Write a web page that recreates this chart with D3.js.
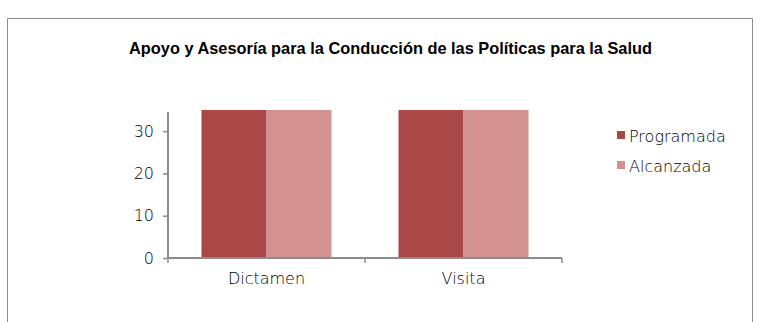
<!DOCTYPE html>
<html><head><meta charset="utf-8">
<script src="https://cdn.jsdelivr.net/npm/d3@7"></script>
<style>
body{margin:0;background:#fff;}
svg{display:block;}
</style></head><body>
<svg id="c" width="757" height="322"></svg>
<script>
const title = "Apoyo y Asesoría para la Conducción de las Políticas para la Salud";
const categories = ["Dictamen", "Visita"];
const seriesNames = ["Programada", "Alcanzada"];
const programada = [35, 35];
const alcanzada = [35, 35];
const yTicks = [0, 10, 20, 30];
const colors = ["#A94846", "#D39290"];

const svg = d3.select("#c");
svg.append("path").attr("d","M7.5,322 V18.5 H752.5 V322").attr("fill","none").attr("stroke","#8c8c8c").attr("stroke-width",1);

svg.append("text").text(title)
  .attr("x",390.5).attr("y",54).attr("text-anchor","middle")
  .attr("font-family","Liberation Sans, Arial, sans-serif").attr("font-weight","bold")
  .attr("font-size",17).attr("textLength",523).attr("lengthAdjust","spacingAndGlyphs").attr("fill","#000");

const x0 = d3.scaleBand().domain(categories).range([168,562]).paddingInner(0.34).paddingOuter(0.17);
const x1 = d3.scaleBand().domain(seriesNames).range([0,x0.bandwidth()]);
const y = d3.scaleLinear().domain([0,35]).range([258,110]);

const data = categories.map((c,i)=>({cat:c, vals:[programada[i], alcanzada[i]]}));
svg.append("g").selectAll("g").data(data).join("g").attr("transform",d=>`translate(${x0(d.cat)},0)`)
  .selectAll("rect").data(d=>d.vals.map((v,j)=>({s:seriesNames[j],v,j})))
  .join("rect")
  .attr("x",d=>x1(d.s)).attr("width",x1.bandwidth())
  .attr("y",d=>y(d.v)).attr("height",d=>y(0)-y(d.v))
  .attr("fill",d=>colors[d.j]);

const font = "'DejaVu Sans', sans-serif";
const ya = svg.append("g").attr("transform","translate(168,0)")
  .call(d3.axisLeft(y).tickValues(yTicks).tickSize(5).tickPadding(9).tickFormat(d3.format("d")));
ya.select(".domain").attr("stroke","#8c8c8c").attr("stroke-width",2).attr("d","M0,112V258");
ya.selectAll(".tick line").attr("stroke","#8c8c8c").attr("stroke-width",1.5);
ya.selectAll("text").attr("font-family",font).attr("font-weight",200).attr("font-size",16).attr("fill","#000");

const xa = svg.append("g").attr("transform","translate(0,258)")
  .call(d3.axisBottom(x0).tickSize(0).tickPadding(15));
xa.select(".domain").attr("stroke","#8c8c8c").attr("stroke-width",2).attr("d","M167,0H562");
xa.selectAll("text").attr("font-family",font).attr("font-weight",200).attr("font-size",16).attr("fill","#000");
const bounds = [x0.range()[0], (x0("Dictamen")+x0.bandwidth()+x0("Visita"))/2, x0.range()[1]];
xa.selectAll("line.sep").data(bounds).join("line").attr("class","sep")
  .attr("x1",d=>d).attr("x2",d=>d).attr("y1",0).attr("y2",5).attr("stroke","#8c8c8c").attr("stroke-width",1.5);

const lg = svg.append("g").attr("transform","translate(617,0)");
seriesNames.forEach((s,i)=>{
  const cy = 135 + i*30;
  lg.append("rect").attr("x",0).attr("y",cy-4).attr("width",8).attr("height",8).attr("fill",colors[i]);
  lg.append("text").text(s).attr("x",12).attr("y",cy+6.5)
    .attr("font-family",font).attr("font-weight",200).attr("font-size",16).attr("fill","#000");
});
</script>
</body></html>
